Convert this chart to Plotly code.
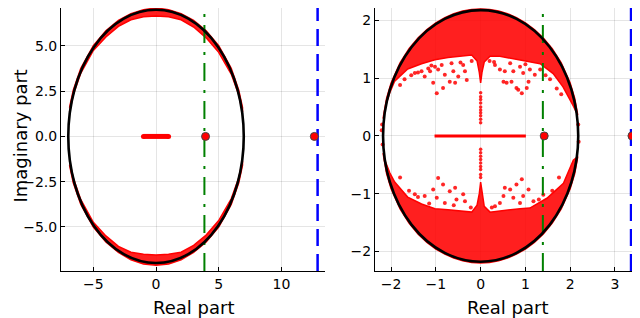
import plotly.graph_objects as go

# ---------------- data ----------------
# Left panel
L_radius = 7.0
L_band_x = [-6.9, -6.6, -6.0, -5.0, -4.0, -3.0, -2.0, -1.0, 0.0, 1.0, 2.0, 3.0, 4.0, 5.0, 6.0, 6.6, 6.9]
L_top_outer = [1.59, 2.56, 3.76, 5.01, 5.84, 6.41, 6.79, 7.01, 7.10, 7.01, 6.79, 6.41, 5.84, 5.01, 3.76, 2.56, 1.59]
L_top_inner = [1.35, 2.30, 3.50, 4.75, 5.50, 6.08, 6.45, 6.62, 6.66, 6.62, 6.45, 6.05, 5.45, 4.65, 3.45, 2.30, 1.35]
L_bot_outer = [-1.59, -2.56, -3.76, -5.01, -5.84, -6.41, -6.82, -7.05, -7.12, -7.05, -6.82, -6.41, -5.84, -5.01, -3.76, -2.56, -1.59]
L_bot_inner = [-1.35, -2.30, -3.50, -4.75, -5.50, -6.08, -6.40, -6.52, -6.55, -6.52, -6.40, -6.02, -5.45, -4.65, -3.45, -2.30, -1.35]
L_seg_x = [-1.0, 1.0]
L_out_x = [3.95, 12.63]
L_out_y = [0.0, 0.0]
L_green = 3.86
L_blue = 12.89
L_xrange = [-7.58, 13.48]
L_yrange = [-7.44, 7.10]
L_xticks = [-5, 0, 5, 10]
L_yticks = [-5.0, -2.5, 0.0, 2.5, 5.0]

# Right panel
R_radius = 2.18
R_outer_x = [-2.18, -2.1, -2.0, -1.8, -1.6, -1.4, -1.2, -1.0, -0.8, -0.6, -0.4, -0.2, 0.0,
             0.2, 0.4, 0.6, 0.8, 1.0, 1.2, 1.4, 1.6, 1.8, 2.0, 2.1, 2.17]
R_top_outer_y = [0.30, 0.656, 0.917, 1.265, 1.51, 1.697, 1.844, 1.96, 2.049, 2.117, 2.163, 2.191, 2.20,
                 2.191, 2.163, 2.117, 2.049, 1.96, 1.844, 1.697, 1.51, 1.265, 0.917, 0.656, 0.36]
R_bot_outer_y = [-0.30, -0.656, -0.917, -1.265, -1.51, -1.697, -1.844, -1.96, -2.049, -2.117, -2.163, -2.191, -2.20,
                 -2.191, -2.163, -2.117, -2.049, -1.96, -1.844, -1.697, -1.51, -1.265, -0.917, -0.656, -0.36]
R_top_inner_x = [-2.18, -2.14, -2.03, -1.92, -1.63, -1.32, -1.02, -0.73, -0.42, -0.2, -0.08, -0.03, 0.0,
                 0.03, 0.08, 0.21, 0.43, 0.88, 1.33, 1.62, 1.84, 2.07, 2.17]
R_top_inner_y = [0.30, 0.48, 0.75, 0.95, 1.16, 1.25, 1.32, 1.36, 1.38, 1.40, 1.30, 1.10, 0.92,
                 1.10, 1.28, 1.38, 1.38, 1.32, 1.25, 1.08, 0.85, 0.52, 0.36]
R_bot_inner_x = [-2.18, -2.14, -2.03, -1.92, -1.63, -1.32, -1.02, -0.73, -0.42, -0.2, -0.08, -0.03, 0.0,
                 0.03, 0.08, 0.21, 0.43, 0.88, 1.10, 1.48, 1.85, 2.07, 2.17]
R_bot_inner_y = [-0.30, -0.42, -0.64, -0.80, -1.06, -1.18, -1.26, -1.28, -1.30, -1.32, -1.20, -1.00, -0.80,
                 -1.00, -1.22, -1.32, -1.30, -1.26, -1.25, -1.08, -0.82, -0.42, -0.36]
R_sc_x = [-0.98, -0.84, -0.69, -0.57, -1.06, -1.25, -1.13, -0.95, -0.80, -0.61, -0.50, -0.35, -0.31, -0.39,
          -0.65, -0.87, -1.02, -1.17, -1.32, -1.47, 0.92, 0.80, 0.69, 0.58, 1.07, 0.32, 0.54, 0.43, 0.73,
          0.95, 1.10, 1.21, 0.88, 0.66, 1.33, 0.84, 1.03, 0.51,
          -1.80, -1.70, -1.55, -1.40, -1.10, -0.45, -0.20, 0.20, 0.30, 1.45, 1.55, 1.70, 1.80, 1.00,
          -0.95, -0.84, -1.06, -0.69, -0.57, -1.25, -0.98, -0.80, -0.54, -0.35, -0.39, -1.47,
          0.92, 0.54, 0.66, 0.80, 1.07, 0.51, 0.73, 0.95, 0.32, 0.43, 1.18, 0.88,
          -1.80, -1.60, -1.40, -1.15, -0.60, -0.22, 0.25, 1.30, 1.60, 1.75, 1.40,
          -2.20, -2.21, -2.19, 2.18, 2.19]
R_sc_y = [0.74, 0.83, 0.94, 0.92, 0.92, 1.03, 1.12, 1.15, 1.06, 1.12, 1.03, 1.12, 0.97, 1.23,
          1.26, 1.23, 1.20, 1.17, 1.12, 1.09, 0.74, 0.83, 0.94, 0.92, 0.94, 1.23, 1.12, 1.15, 1.12,
          1.09, 1.15, 1.06, 1.20, 1.26, 1.15, 0.80, 0.83, 0.94,
          0.88, 0.98, 1.05, 1.10, 1.22, 1.27, 1.30, 1.30, 1.28, 1.05, 0.98, 0.82, 0.72, 1.24,
          -0.73, -0.84, -0.93, -0.96, -0.90, -1.04, -1.07, -1.16, -1.10, -1.13, -1.01, -1.01,
          -0.75, -0.90, -0.93, -0.84, -0.93, -1.04, -1.07, -1.04, -1.22, -1.16, -1.13, -1.16,
          -0.72, -0.95, -1.06, -1.17, -1.20, -1.24, -1.24, -1.10, -0.95, -0.72, -1.02,
          0.20, 0.10, -0.15, 0.20, -0.10]
R_axis_x = [0.0] * 19
R_axis_y = [0.23, 0.29, 0.35, 0.40, 0.45, 0.50, 0.57, 0.63, 0.68, 0.75,
            -0.23, -0.29, -0.35, -0.41, -0.47, -0.53, -0.58, -0.67, -0.72]
R_seg_x = [-1.03, 1.01]
R_out_x = [1.42, 3.38]
R_out_y = [0.0, 0.0]
R_green = 1.39
R_blue = 3.36
R_xrange = [-2.36, 3.56]
R_yrange = [-2.34, 2.216]
R_xticks = [-2, -1, 0, 1, 2, 3]
R_yticks = [-2, -1, 0, 1, 2]

X_TITLE = "Real part"
Y_TITLE = "Imaginary part"

RED = "rgb(255,0,0)"
FONT = "DejaVu Sans"

# The page body adds an 8px offset; size the figure so it fits the 640x318 window.
W, H = 632, 310

fig = go.Figure()


def band(xo, yo, xi, yi, xa, ya):
    fig.add_trace(go.Scatter(x=list(xo) + list(xi)[::-1], y=list(yo) + list(yi)[::-1],
                             mode="lines", fill="toself", fillcolor="rgba(255,0,0,0.88)",
                             line=dict(color=RED, width=1.5), xaxis=xa, yaxis=ya,
                             hoverinfo="skip", showlegend=False))


# Left panel
band(L_band_x, L_top_outer, L_band_x, L_top_inner, "x", "y")
band(L_band_x, L_bot_outer, L_band_x, L_bot_inner, "x", "y")
fig.add_trace(go.Scatter(x=L_seg_x, y=[0, 0], mode="lines+markers",
                         line=dict(color=RED, width=5), marker=dict(size=5, color=RED),
                         xaxis="x", yaxis="y", showlegend=False))
fig.add_trace(go.Scatter(x=[L_green, L_green], y=L_yrange, mode="lines",
                         line=dict(color="green", width=2, dash="18px,8px,3px,9px"),
                         xaxis="x", yaxis="y", showlegend=False))
fig.add_trace(go.Scatter(x=[L_blue, L_blue], y=L_yrange, mode="lines",
                         line=dict(color="blue", width=2.5, dash="17px,8px"),
                         xaxis="x", yaxis="y", showlegend=False))
fig.add_trace(go.Scatter(x=L_out_x, y=L_out_y, mode="markers",
                         marker=dict(size=8, color=RED, line=dict(color="#444444", width=1)),
                         xaxis="x", yaxis="y", showlegend=False))

# Right panel
band(R_outer_x, R_top_outer_y, R_top_inner_x, R_top_inner_y, "x2", "y2")
band(R_outer_x, R_bot_outer_y, R_bot_inner_x, R_bot_inner_y, "x2", "y2")
fig.add_trace(go.Scatter(x=R_sc_x, y=R_sc_y, mode="markers",
                         marker=dict(size=4, color="rgba(255,0,0,0.85)", line=dict(width=0)),
                         xaxis="x2", yaxis="y2", showlegend=False))
fig.add_trace(go.Scatter(x=R_axis_x, y=R_axis_y, mode="markers",
                         marker=dict(size=3.5, color="rgba(255,0,0,0.85)", line=dict(width=0)),
                         xaxis="x2", yaxis="y2", showlegend=False))
fig.add_trace(go.Scatter(x=R_seg_x, y=[0, 0], mode="lines",
                         line=dict(color=RED, width=3),
                         xaxis="x2", yaxis="y2", showlegend=False))
fig.add_trace(go.Scatter(x=[R_green, R_green], y=R_yrange, mode="lines",
                         line=dict(color="green", width=2, dash="18px,8px,3px,9px"),
                         xaxis="x2", yaxis="y2", showlegend=False))
fig.add_trace(go.Scatter(x=[R_blue, R_blue], y=R_yrange, mode="lines",
                         line=dict(color="blue", width=2.5, dash="17px,8px"),
                         xaxis="x2", yaxis="y2", showlegend=False))
fig.add_trace(go.Scatter(x=R_out_x, y=R_out_y, mode="markers",
                         marker=dict(size=8, color=RED, line=dict(color="#444444", width=1)),
                         xaxis="x2", yaxis="y2", showlegend=False, cliponaxis=False))

# Ellipses
fig.add_shape(type="circle", xref="x", yref="y", x0=-L_radius, x1=L_radius, y0=-L_radius, y1=L_radius,
              line=dict(color="black", width=2.6), layer="above")
fig.add_shape(type="circle", xref="x2", yref="y2", x0=-R_radius, x1=R_radius, y0=-R_radius, y1=R_radius,
              line=dict(color="black", width=2.6), layer="above")

axis_common = dict(showline=True, linecolor="black", linewidth=1, ticks="inside", ticklen=4,
                   tickcolor="black", showgrid=True, gridcolor="rgba(0,0,0,0.1)", gridwidth=1,
                   zeroline=False, mirror=False, automargin=False,
                   tickfont=dict(family=FONT, size=14, color="black"))
ydom = [(H - 263) / H, 1.0]
L_xdom = [53 / W, 317 / W]
R_xdom = [367 / W, 1.0]
fig.update_layout(
    width=W, height=H, margin=dict(l=0, r=0, t=0, b=0),
    paper_bgcolor="white", plot_bgcolor="white", showlegend=False,
    font=dict(family=FONT, color="black"),
    xaxis=dict(domain=L_xdom, range=L_xrange, tickvals=L_xticks, anchor="y", **axis_common),
    yaxis=dict(domain=ydom, range=L_yrange, tickvals=L_yticks, tickformat=".1f",
               anchor="x", **axis_common),
    xaxis2=dict(domain=R_xdom, range=R_xrange, tickvals=R_xticks, anchor="y2", **axis_common),
    yaxis2=dict(domain=ydom, range=R_yrange, tickvals=R_yticks, anchor="x2", **axis_common),
)

title_y = (H - 299) / H
for dom in (L_xdom, R_xdom):
    fig.add_annotation(text=X_TITLE, xref="paper", yref="paper", x=(dom[0] + dom[1]) / 2, y=title_y,
                       xanchor="center", yanchor="middle", showarrow=False,
                       font=dict(family=FONT, size=18, color="black"))
fig.add_annotation(text=Y_TITLE, xref="paper", yref="paper", x=0.0, y=1 - 128 / H,
                   xanchor="left", yanchor="middle", textangle=-90, showarrow=False,
                   font=dict(family=FONT, size=18, color="black"))

fig.write_html("out.html")
